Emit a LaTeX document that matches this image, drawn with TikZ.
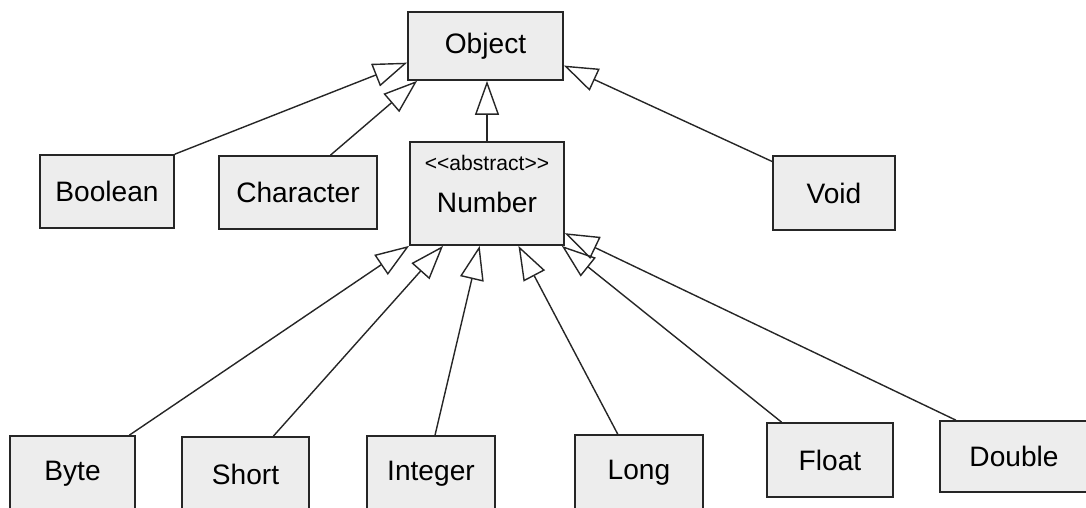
\documentclass[tikz,border=0pt]{standalone}
\usepackage{fontspec}
\newfontfamily\umlfont{Liberation Sans}
\usetikzlibrary{arrows.meta, positioning}
\tikzset{
  classnode/.style={
    rectangle, draw=black!85, fill=gray!14, line width=1.2pt,
    font=\umlfont\fontsize{20}{24}\selectfont,
    inner sep=0pt, align=center
  },
  genarrow/.style={-{Triangle[open, length=0.85cm, width=0.6cm]}, line width=1pt, black!85}
}

\begin{document}
\begin{tikzpicture}[x=0.025cm, y=-0.025cm]
    \useasboundingbox (0,0) rectangle (1086,507);
    \node[classnode, minimum width=3.875cm, minimum height=1.7cm] (object) at (485.5,46) {Object};
    \node[classnode, minimum width=3.85cm, minimum height=2.575cm] (number) at (487,193.5)
      {{\fontsize{15}{18}\selectfont <<abstract>>}\\[6pt]Number\rule[-0.5cm]{0pt}{0pt}};
    \node[classnode, minimum width=3.35cm, minimum height=1.825cm] (boolean) at (107,191.5) {Boolean};
    \node[classnode, minimum width=3.95cm, minimum height=1.825cm] (character) at (298,192.5) {Character};
    \node[classnode, minimum width=3.05cm, minimum height=1.85cm] (void) at (834,193) {Void};
    \node[classnode, minimum width=3.125cm, minimum height=1.875cm] (byte) at (72.5,473.5) {Byte};
    \node[classnode, minimum width=3.175cm, minimum height=1.875cm] (short) at (245.5,474.5) {Short};
    \node[classnode, minimum width=3.2cm, minimum height=1.875cm] (integer) at (431,473.5) {Integer};
    \node[classnode, minimum width=3.2cm, minimum height=1.875cm] (long) at (639,472.5) {Long};
    \node[classnode, minimum width=3.15cm, minimum height=1.85cm] (float) at (830,460) {Float};
    \node[classnode, minimum width=3.7cm, minimum height=1.775cm] (double) at (1014,456.5) {Double};
    \draw[genarrow] (boolean.north east) -- (object.192);
    \draw[genarrow] (character.49) -- (object.207);
    \draw[genarrow] (number.north) -- (number.north |- object.south);
    \draw[genarrow] (void.153) -- (object.346);
    \draw[genarrow] (byte.34) -- (number.south west);
    \draw[genarrow] (short.54) -- (number.230);
    \draw[genarrow] (integer.84) -- (number.262);
    \draw[genarrow] (long.119) -- (number.301);
    \draw[genarrow] (float.142) -- (number.325);
    \draw[genarrow] (double.148) -- (number.333);
  \end{tikzpicture}
\end{document}
